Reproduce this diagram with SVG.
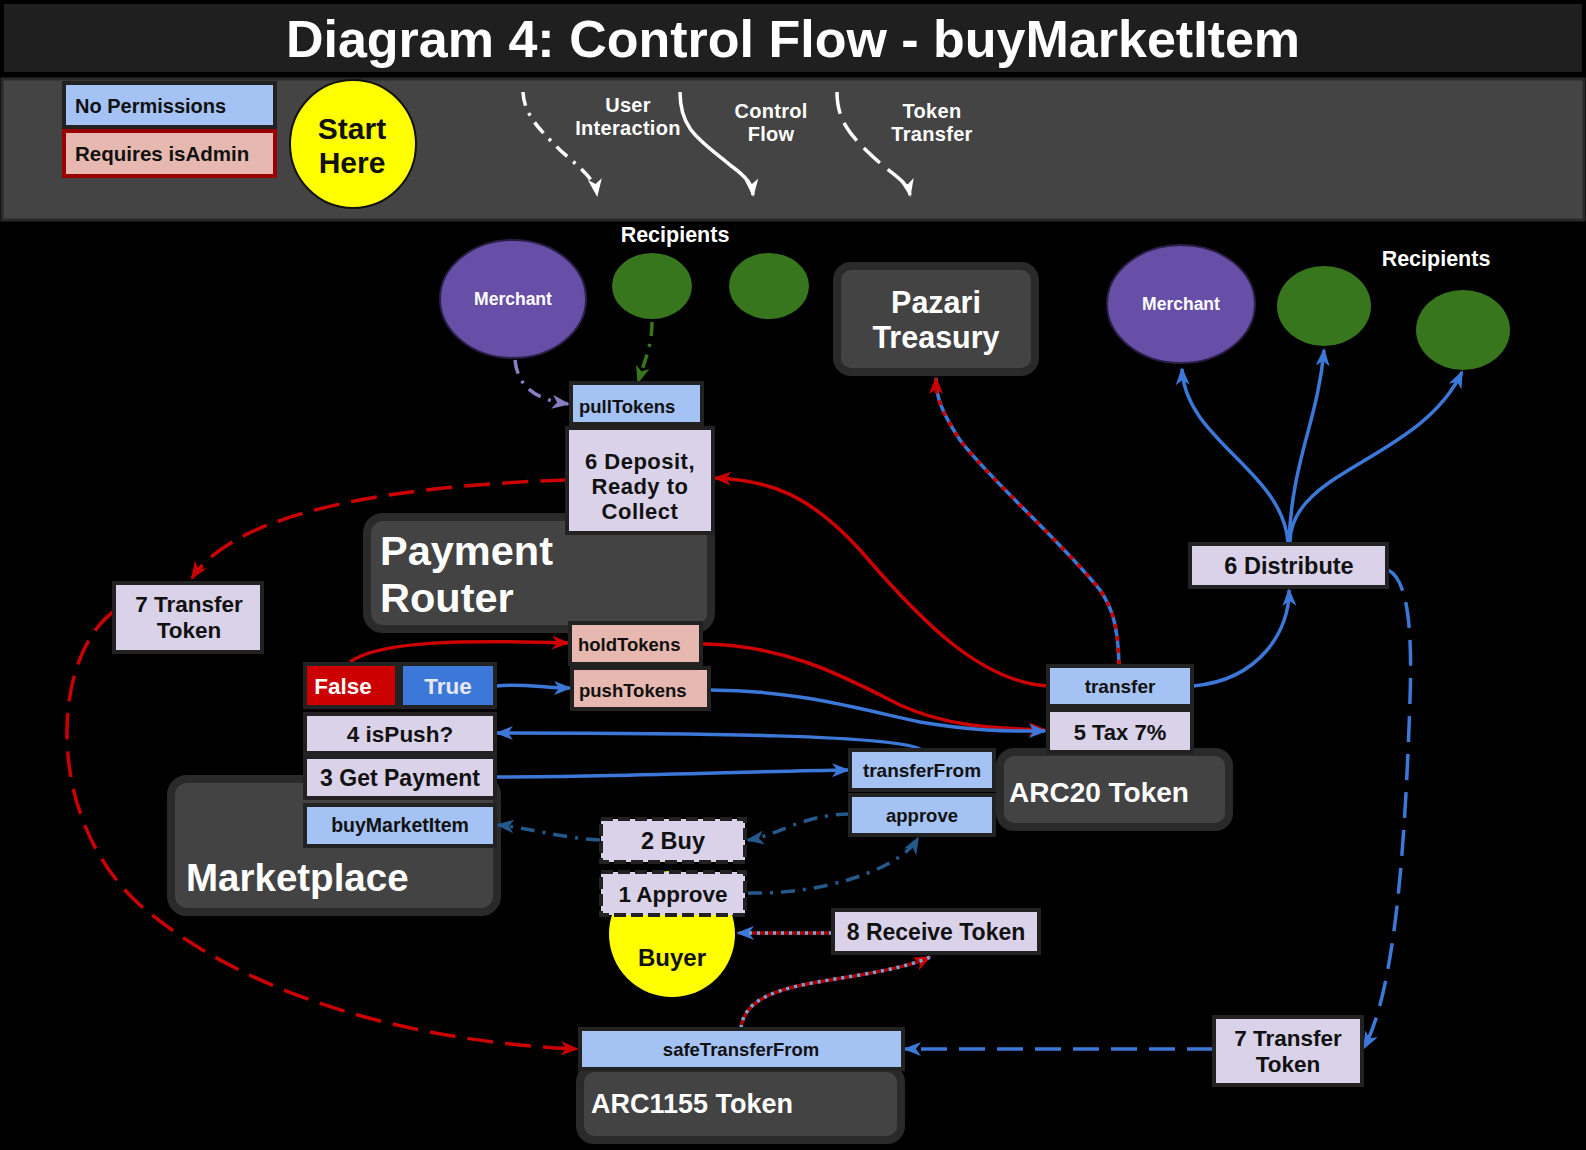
<svg xmlns="http://www.w3.org/2000/svg" width="1586" height="1150" viewBox="0 0 1586 1150">
<defs>
<style>
.t{font-family:"Liberation Sans",Arial,sans-serif;font-weight:700;}
.w{fill:#ffffff;}
.k{fill:#111111;}
.c{text-anchor:middle;}
.box{stroke:#222222;stroke-width:4;}
.np{fill:#a4c2f4;}
.adm{fill:#e6b8af;}
.step{fill:#d9d2e9;}
.cont{fill:#434343;stroke:#2a2a2a;stroke-width:8;}
.ln{fill:none;stroke-width:3.5;}
.red{stroke:#cc0000;}
.blue{stroke:#3c78d8;}
.dblue{stroke:#24598c;stroke-dasharray:14 8 3 8;}
.dash{stroke-dasharray:26 12;}
</style>
<marker id="aR" viewBox="0 0 18 14" refX="16" refY="7" markerWidth="18" markerHeight="14" markerUnits="userSpaceOnUse" orient="auto"><path d="M0,0 L18,7 L0,14 L5,7 z" fill="#cc0000"/></marker>
<marker id="aB" viewBox="0 0 18 14" refX="16" refY="7" markerWidth="18" markerHeight="14" markerUnits="userSpaceOnUse" orient="auto"><path d="M0,0 L18,7 L0,14 L5,7 z" fill="#3c78d8"/></marker>
<marker id="aD" viewBox="0 0 18 14" refX="16" refY="7" markerWidth="18" markerHeight="14" markerUnits="userSpaceOnUse" orient="auto"><path d="M0,0 L18,7 L0,14 L5,7 z" fill="#24598c"/></marker>
<marker id="aP" viewBox="0 0 18 14" refX="16" refY="7" markerWidth="18" markerHeight="14" markerUnits="userSpaceOnUse" orient="auto"><path d="M0,0 L18,7 L0,14 L5,7 z" fill="#8e7cc3"/></marker>
<marker id="aG" viewBox="0 0 18 14" refX="16" refY="7" markerWidth="18" markerHeight="14" markerUnits="userSpaceOnUse" orient="auto"><path d="M0,0 L18,7 L0,14 L5,7 z" fill="#38761d"/></marker>
<marker id="aW" viewBox="0 0 18 14" refX="16" refY="7" markerWidth="18" markerHeight="14" markerUnits="userSpaceOnUse" orient="auto"><path d="M0,0 L18,7 L0,14 L5,7 z" fill="#ffffff"/></marker>
</defs>
<rect x="0" y="0" width="1586" height="1150" fill="#000000"/>

<g id="title">
<rect x="4" y="4" width="1578" height="68" fill="#1f1f1f"/>
<text class="t w c" x="793" y="57" font-size="52">Diagram 4: Control Flow - buyMarketItem</text>
</g>

<g id="legend">
<rect x="2" y="79" width="1582" height="141" fill="#444444" stroke="#2a2a2a" stroke-width="3"/>
<rect x="64" y="83" width="211" height="44" class="np" stroke="#222222" stroke-width="4"/>
<text class="t k" x="75" y="113" font-size="20">No Permissions</text>
<rect x="64" y="131" width="211" height="45" class="adm" stroke="#990000" stroke-width="4"/>
<text class="t k" x="75" y="161" font-size="20.5">Requires isAdmin</text>
<g id="start">
<ellipse cx="353" cy="144" rx="63" ry="64" fill="#ffff00" stroke="#111111" stroke-width="2"/>
<text class="t k c" font-size="30"><tspan x="352" y="139">Start</tspan><tspan x="352" y="173">Here</tspan></text>
</g>
<path d="M523,92 C524,115 540,130 560,150 C585,172 595,180 597,195" class="ln" stroke="#ffffff" stroke-width="3" stroke-dasharray="14 8 3 8" marker-end="url(#aW)"/>
<path d="M680,92 C680,130 700,140 730,165 C748,178 752,185 753,195" class="ln" stroke="#ffffff" stroke-width="3" marker-end="url(#aW)"/>
<path d="M837,92 C837,125 855,140 882,165 C902,180 908,185 910,195" class="ln" stroke="#ffffff" stroke-width="3" stroke-dasharray="22 10" marker-end="url(#aW)"/>
<text class="t w c" font-size="20" letter-spacing="0.3"><tspan x="628" y="112">User</tspan><tspan x="628" y="134.5">Interaction</tspan></text>
<text class="t w c" font-size="20" letter-spacing="0.3"><tspan x="771" y="118">Control</tspan><tspan x="771" y="140.5">Flow</tspan></text>
<text class="t w c" font-size="20" letter-spacing="0.3"><tspan x="932" y="118">Token</tspan><tspan x="932" y="140.5">Transfer</tspan></text>
</g>

<g id="containers">
<g id="pazari"><rect x="837" y="266" width="198" height="106" rx="14" class="cont"/>
<text class="t w c" font-size="30.5"><tspan x="936" y="313">Pazari</tspan><tspan x="936" y="348">Treasury</tspan></text></g>
<g id="payment-router"><rect x="367" y="517" width="344" height="112" rx="16" class="cont"/>
<text class="t w" font-size="41.5"><tspan x="380" y="565">Payment</tspan><tspan x="380" y="612">Router</tspan></text></g>
<g id="marketplace"><rect x="171" y="779" width="326" height="133" rx="16" class="cont"/>
<text class="t w" x="186" y="891" font-size="38.5">Marketplace</text></g>
<g id="arc20"><rect x="1000" y="752" width="229" height="75" rx="14" class="cont"/>
<text class="t w" x="1009" y="802" font-size="28">ARC20 Token</text></g>
<g id="arc1155"><rect x="580" y="1068" width="321" height="72" rx="14" class="cont"/>
<text class="t w" x="591" y="1113" font-size="27">ARC1155 Token</text></g>
</g>

<g id="connectors">
<path d="M566,480 C420,485 240,505 192,578" class="ln red dash" marker-end="url(#aR)"/>
<path d="M113,612 C50,660 45,820 140,905 C250,1000 420,1042 577,1049" class="ln red dash" marker-end="url(#aR)"/>
<path d="M1048,686 C980,682 920,620 860,550 C810,495 770,480 715,478" class="ln red" marker-end="url(#aR)"/>
<path d="M703,644 C790,645 850,680 900,705 C950,728 1000,728 1045,730" class="ln red" marker-end="url(#aR)"/>
<path d="M710,690 C800,690 870,712 920,722 C980,732 1010,731 1045,731" class="ln blue" marker-end="url(#aB)"/>
<path d="M350,662 C380,640 470,640 568,643" class="ln red" marker-end="url(#aR)"/>
<path d="M497,686 C520,683 545,688 570,688" class="ln blue" marker-end="url(#aB)"/>
<path d="M922,750 C900,735 700,733 497,733" class="ln blue" marker-end="url(#aB)"/>
<path d="M497,777 C620,777 760,771 848,770" class="ln blue" marker-end="url(#aB)"/>
<path d="M850,814 C800,815 780,835 748,840" class="ln dblue" marker-end="url(#aD)"/>
<path d="M600,840 C560,838 530,828 498,825" class="ln dblue" marker-end="url(#aD)"/>
<path d="M748,893 C820,895 900,870 918,838" class="ln dblue" marker-end="url(#aD)"/>
<path d="M1193,686 C1260,680 1290,630 1289,590" class="ln blue" marker-end="url(#aB)"/>
<path d="M1388,570 C1410,580 1412,640 1410,700 C1405,850 1395,990 1364,1048" class="ln blue dash" marker-end="url(#aB)"/>
<path d="M1213,1049 L905,1049" class="ln blue dash" marker-end="url(#aB)"/>
<path d="M741,1028 C745,990 800,985 860,975 C900,968 920,962 930,957" class="ln" stroke="#aa0000" marker-end="url(#aR)"/>
<path d="M741,1028 C745,990 800,985 860,975 C900,968 920,962 930,957" class="ln" stroke="#6fa8dc" stroke-width="2" stroke-dasharray="3 5"/>
<path d="M832,933 L738,933" class="ln" stroke="#aa0000" marker-end="url(#aB)"/>
<path d="M832,933 L745,933" class="ln" stroke="#6fa8dc" stroke-width="2" stroke-dasharray="3 5"/>
<path d="M1119,665 C1118,620 1110,605 1100,590 C1060,540 990,480 960,440 C940,410 936,395 936,378" class="ln blue" marker-end="url(#aR)"/>
<path d="M1119,665 C1118,620 1110,605 1100,590 C1060,540 990,480 960,440 C940,410 936,395 936,385" class="ln red" stroke-width="2.5" stroke-dasharray="5 7"/>
<path d="M1288,542 C1282,470 1185,440 1182,369" class="ln blue" marker-end="url(#aB)"/>
<path d="M1289,542 C1292,460 1318,420 1324,350" class="ln blue" marker-end="url(#aB)"/>
<path d="M1290,542 C1290,470 1420,460 1462,372" class="ln blue" marker-end="url(#aB)"/>
<path d="M515,360 C518,390 540,400 568,404" class="ln" stroke="#8e7cc3" stroke-width="3" stroke-dasharray="14 8 3 8" marker-end="url(#aP)"/>
<path d="M652,322 C652,345 645,360 638,382" class="ln" stroke="#38761d" stroke-width="3" stroke-dasharray="14 8 3 8" marker-end="url(#aG)"/>
</g>

<g id="recipients-left">
<text class="t w c" x="675" y="242" font-size="21.5">Recipients</text>
<g id="merchant-left"><ellipse cx="513" cy="299" rx="73" ry="59" fill="#674ea7" stroke="#2b1f47" stroke-width="2"/>
<text class="t w c" x="513" y="305" font-size="17.5">Merchant</text></g>
<ellipse id="recipient-l1" cx="652" cy="286" rx="40" ry="33" fill="#38761d"/>
<ellipse id="recipient-l2" cx="769" cy="286" rx="40" ry="33" fill="#38761d"/>
</g>

<g id="recipients-right">
<text class="t w c" x="1436" y="266" font-size="21.5">Recipients</text>
<g id="merchant-right"><ellipse cx="1181" cy="304" rx="74" ry="59" fill="#674ea7" stroke="#2b1f47" stroke-width="2"/>
<text class="t w c" x="1181" y="310" font-size="17.5">Merchant</text></g>
<ellipse id="recipient-r1" cx="1324" cy="306" rx="47" ry="40" fill="#38761d"/>
<ellipse id="recipient-r2" cx="1463" cy="330" rx="47" ry="40" fill="#38761d"/>
</g>

<g id="pullTokens"><rect x="571" y="383" width="131" height="41" class="box np"/>
<text class="t k" x="579" y="413" font-size="18.5">pullTokens</text></g>
<g id="deposit"><rect x="567" y="428" width="146" height="105" class="box step"/>
<text class="t k c" font-size="22" letter-spacing="0.5"><tspan x="640" y="469">6 Deposit,</tspan><tspan x="640" y="494">Ready to</tspan><tspan x="640" y="519">Collect</tspan></text></g>

<g id="transfer-left"><rect x="114" y="583" width="148" height="69" class="box step"/>
<text class="t k c" font-size="22.5"><tspan x="189" y="612">7 Transfer</tspan><tspan x="189" y="638">Token</tspan></text></g>

<g id="holdTokens"><rect x="570" y="623" width="131" height="41" class="box adm"/>
<text class="t k" x="578" y="651" font-size="18.5">holdTokens</text></g>
<g id="pushTokens"><rect x="572" y="668" width="137" height="41" class="box adm"/>
<text class="t k" x="579" y="697" font-size="18.5">pushTokens</text></g>

<g id="false"><rect x="305" y="664" width="92" height="43" fill="#cc0000" stroke="#222222" stroke-width="4"/>
<text class="t w c" x="343" y="694" font-size="22.5">False</text></g>
<g id="true"><rect x="401" y="664" width="94" height="43" fill="#3c78d8" stroke="#222222" stroke-width="4"/>
<text class="t c" x="448" y="694" font-size="22.5" fill="#e8e8f4">True</text></g>
<g id="isPush"><rect x="305" y="714" width="190" height="39" class="box step"/>
<text class="t k c" x="400" y="742" font-size="22.5">4 isPush?</text></g>
<g id="getPayment"><rect x="305" y="757" width="190" height="41" class="box step"/>
<text class="t k c" x="400" y="786" font-size="23">3 Get Payment</text></g>
<g id="buyMarketItem"><rect x="305" y="805" width="190" height="41" class="box np"/>
<text class="t k c" x="400" y="832" font-size="19.5">buyMarketItem</text></g>

<g id="buyer"><ellipse cx="672" cy="934" rx="63" ry="63" fill="#ffff00"/>
<text class="t k c" x="672" y="966" font-size="24">Buyer</text></g>
<g id="buy"><rect x="601" y="819" width="144" height="43" class="step" stroke="#222222" stroke-width="4" stroke-dasharray="12 5"/>
<text class="t k c" x="673" y="849" font-size="23.5">2 Buy</text></g>
<g id="approve-step"><rect x="601" y="872" width="144" height="43" class="step" stroke="#222222" stroke-width="4" stroke-dasharray="12 5"/>
<text class="t k c" x="673" y="902" font-size="22.5">1 Approve</text></g>

<g id="transferFrom"><rect x="850" y="750" width="144" height="40" class="box np"/>
<text class="t k c" x="922" y="777" font-size="19">transferFrom</text></g>
<g id="approve"><rect x="850" y="795" width="144" height="40" class="box np"/>
<text class="t k c" x="922" y="822" font-size="18.5">approve</text></g>

<g id="transfer"><rect x="1048" y="666" width="144" height="40" class="box np"/>
<text class="t k c" x="1120" y="693" font-size="19">transfer</text></g>
<g id="tax"><rect x="1048" y="710" width="144" height="42" class="box step"/>
<text class="t k c" x="1120" y="740" font-size="22">5 Tax 7%</text></g>

<g id="distribute"><rect x="1190" y="544" width="197" height="43" class="box step"/>
<text class="t k c" x="1289" y="574" font-size="23.5">6 Distribute</text></g>

<g id="receive"><rect x="833" y="910" width="206" height="43" class="box step"/>
<text class="t k c" x="936" y="940" font-size="23">8 Receive Token</text></g>

<g id="safeTransferFrom"><rect x="580" y="1029" width="323" height="40" class="box np"/>
<text class="t k c" x="741" y="1056" font-size="18.5">safeTransferFrom</text></g>

<g id="transfer-right"><rect x="1214" y="1017" width="148" height="68" class="box step"/>
<text class="t k c" font-size="22.5"><tspan x="1288" y="1046">7 Transfer</tspan><tspan x="1288" y="1072">Token</tspan></text></g>
</svg>
